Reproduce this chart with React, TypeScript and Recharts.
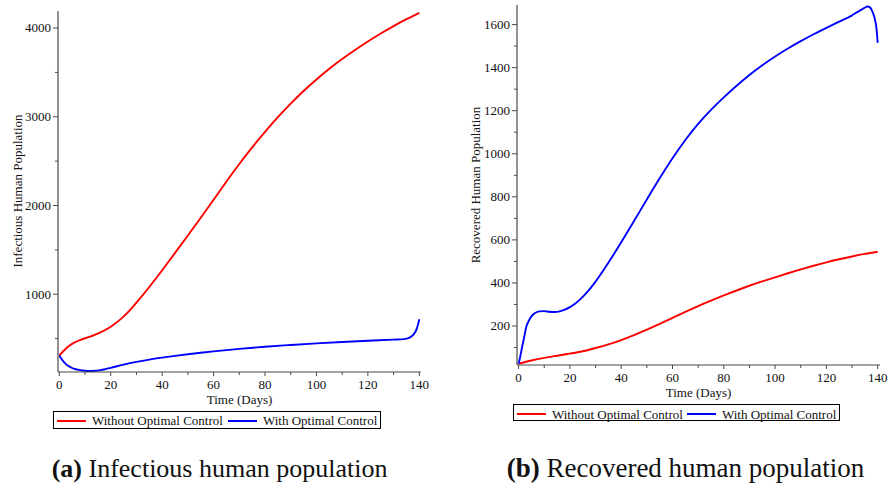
import React from 'react';
import { LineChart, Line, XAxis, YAxis } from 'recharts';

const FONT = '"Liberation Serif", "Times New Roman", serif';

// ---- Data ----
const seriesNames = ['Without Optimal Control', 'With Optimal Control'];
const seriesColors = ['#ff0000', '#0000ff'];

const xTicks = [0, 10, 20, 30, 40, 50, 60, 70, 80, 90, 100, 110, 120, 130, 140];
const infTicks = [500, 1000, 1500, 2000, 2500, 3000, 3500, 4000];
const recTicks = [100, 200, 300, 400, 500, 600, 700, 800, 900, 1000, 1100, 1200, 1300, 1400, 1500, 1600];

// Infectious, without control
const infWithoutDays = [0, 2, 4, 6, 8, 10, 12, 14, 16, 18, 20, 25, 30, 35, 40, 45, 50, 55, 60, 65, 70, 75, 80, 85, 90, 95, 100, 105, 110, 115, 120, 125, 130, 135, 140];
const infWithoutVals = [310, 372, 422, 458, 484, 504, 523, 545, 570, 600, 634, 748, 905, 1082, 1270, 1465, 1662, 1862, 2065, 2270, 2468, 2655, 2830, 2995, 3148, 3290, 3420, 3540, 3650, 3752, 3848, 3938, 4022, 4100, 4172];

// Infectious, with control
const infWithDays = [0, 1, 2, 3, 4, 5, 6, 8, 10, 12, 14, 16, 18, 20, 25, 30, 35, 40, 45, 50, 55, 60, 70, 80, 90, 100, 110, 120, 130, 134, 136, 137, 138, 139, 139.5, 140];
const infWithVals = [310, 265, 230, 203, 184, 169, 158, 145, 138, 136, 138, 145, 157, 171, 207, 238, 264, 286, 306, 324, 341, 357, 385, 409, 429, 447, 462, 476, 489, 495, 508, 526, 556, 610, 660, 718];

// Recovered, without control
const recWithoutDays = [0, 5, 10, 15, 20, 25, 30, 35, 40, 45, 50, 55, 60, 65, 70, 75, 80, 85, 90, 95, 100, 105, 110, 115, 120, 125, 130, 135, 140];
const recWithoutVals = [25, 40, 52, 62, 72, 83, 98, 115, 135, 158, 183, 210, 238, 266, 293, 318, 342, 365, 387, 407, 426, 445, 463, 480, 496, 510, 523, 535, 545];

// Recovered, with control
const recWithDays = [0, 0.5, 1, 1.5, 2, 3, 4, 5, 6, 7, 8, 10, 12, 14, 16, 18, 20, 22, 24, 27, 30, 35, 40, 45, 50, 55, 60, 65, 70, 75, 80, 85, 90, 95, 100, 105, 110, 115, 120, 125, 130, 132, 134, 135, 136, 137, 138, 139, 139.5, 140];
const recWithVals = [25, 50, 80, 110, 138, 197, 225, 245, 257, 264, 268, 269, 266, 265, 268, 276, 288, 304, 324, 361, 406, 494, 589, 688, 788, 886, 979, 1064, 1139, 1204, 1262, 1316, 1366, 1411, 1452, 1489, 1523, 1555, 1585, 1614, 1643, 1658, 1672, 1679, 1684, 1680, 1659, 1620, 1585, 1515];

const zip = (d: number[], v: number[]) => d.map((x, i) => ({ d: x, v: v[i] }));

const AXIS = '#4a4a4a';

const makeYTick = (majorStep: number) => (props: any) => {
  const { x, y, payload } = props;
  const v = payload.value;
  const major = v % majorStep === 0;
  return (
    <g>
      <line x1={x - (major ? 5 : 3)} x2={x} y1={y} y2={y} stroke={AXIS} strokeWidth={1} />
      {major && (
        <text x={x - 7} y={y + 4.3} textAnchor="end" fontSize={13} fontFamily={FONT} fill="#111">
          {v}
        </text>
      )}
    </g>
  );
};

const XTick = (props: any) => {
  const { x, y, payload } = props;
  const v = payload.value;
  const major = v % 20 === 0;
  return (
    <g>
      <line x1={x} x2={x} y1={y} y2={y + (major ? 4 : 3)} stroke={AXIS} strokeWidth={1} />
      {major && (
        <text x={x} y={y + 16.6} textAnchor="middle" fontSize={13} fontFamily={FONT} fill="#111">
          {v}
        </text>
      )}
    </g>
  );
};

type PanelProps = {
  left: number;
  width: number;
  yWidth: number;
  margin: { top: number; right: number; bottom: number; left: number };
  domain: [number, number];
  ticks: number[];
  majorStep: number;
  padding: { left: number; right: number };
  withoutData: { d: number; v: number }[];
  withData: { d: number; v: number }[];
};

const Panel = (p: PanelProps) => (
  <div style={{ position: 'absolute', left: p.left, top: 0 }}>
    <LineChart width={p.width} height={440} margin={p.margin}>
      <XAxis
        dataKey="d"
        type="number"
        domain={[0, 140]}
        ticks={xTicks}
        padding={p.padding}
        tick={XTick}
        tickLine={false}
        tickSize={0}
        tickMargin={0}
        height={40}
        axisLine={{ stroke: AXIS, strokeWidth: 1.2 }}
        interval={0}
        label={{ value: 'Time (Days)', position: 'insideTop', offset: 23, fill: '#111', fontSize: 13, fontFamily: FONT }}
      />
      <XAxis
        xAxisId="top"
        orientation="top"
        type="number"
        domain={[0, 140]}
        height={0}
        tick={false}
        tickLine={false}
        axisLine={{ stroke: AXIS, strokeWidth: 1.2 }}
      />
      <YAxis
        type="number"
        domain={p.domain}
        allowDataOverflow
        ticks={p.ticks}
        tick={makeYTick(p.majorStep)}
        tickLine={false}
        tickSize={0}
        tickMargin={0}
        width={p.yWidth}
        interval={0}
        axisLine={{ stroke: AXIS, strokeWidth: 1.2 }}
      />
      <YAxis
        yAxisId="right"
        orientation="right"
        type="number"
        domain={p.domain}
        width={0}
        tick={false}
        tickLine={false}
        axisLine={{ stroke: AXIS, strokeWidth: 1.2 }}
      />
      <Line
        data={p.withoutData}
        dataKey="v"
        name={seriesNames[0]}
        type="natural"
        stroke={seriesColors[0]}
        strokeWidth={1.9}
        dot={false}
        isAnimationActive={false}
      />
      <Line
        data={p.withData}
        dataKey="v"
        name={seriesNames[1]}
        type="monotone"
        stroke={seriesColors[1]}
        strokeWidth={1.9}
        dot={false}
        isAnimationActive={false}
      />
    </LineChart>
  </div>
);

const LegendBox = ({ left, top, width, height, secondAt }: { left: number; top: number; width: number; height: number; secondAt: number }) => (
  <div
    style={{
      position: 'absolute',
      left,
      top,
      width,
      height,
      border: '1px solid #000',
      boxSizing: 'border-box',
      fontFamily: FONT,
      fontSize: 13,
      color: '#111',
      lineHeight: `${height - 2}px`,
      whiteSpace: 'nowrap',
    }}
  >
    {seriesNames.map((n, i) => (
      <div key={n} style={{ position: 'absolute', left: i === 0 ? 3 : secondAt, top: 0, height: height - 2 }}>
        <span
          style={{
            display: 'inline-block',
            width: 29,
            height: 2,
            background: seriesColors[i],
            verticalAlign: 'middle',
            marginRight: 6,
          }}
        />
        <span style={{ verticalAlign: 'middle' }}>{n}</span>
      </div>
    ))}
  </div>
);

export default function App() {
  return (
    <div style={{ position: 'absolute', left: 0, top: 0, width: 891, height: 484, background: '#fff', overflow: 'hidden' }}>
      <Panel
        left={0}
        width={440}
        yWidth={58}
        margin={{ top: 11, right: 19, bottom: 28, left: 0 }}
        domain={[124, 4192]}
        ticks={infTicks}
        majorStep={1000}
        padding={{ left: 1.3, right: 1.7 }}
        withoutData={zip(infWithoutDays, infWithoutVals)}
        withData={zip(infWithDays, infWithVals)}
      />
      <Panel
        left={440}
        width={451}
        yWidth={77}
        margin={{ top: 5, right: 11, bottom: 35, left: 0 }}
        domain={[19, 1691]}
        ticks={recTicks}
        majorStep={200}
        padding={{ left: 1.6, right: 2.3 }}
        withoutData={zip(recWithoutDays, recWithoutVals)}
        withData={zip(recWithDays, recWithVals)}
      />
      <LegendBox left={53} top={411} width={328} height={18} secondAt={174} />
      <LegendBox left={513} top={404} width={327} height={17} secondAt={173} />
      <svg width={891} height={484} style={{ position: 'absolute', left: 0, top: 0, pointerEvents: 'none' }}>
        <text transform="translate(17,191) rotate(-90)" textAnchor="middle" dominantBaseline="central" fontSize={13} fontFamily={FONT} fill="#111">
          Infectious Human Population
        </text>
        <text transform="translate(475,185) rotate(-90)" textAnchor="middle" dominantBaseline="central" fontSize={13} fontFamily={FONT} fill="#111">
          Recovered Human Population
        </text>
        <text x={51.7} y={476.7} fontSize={26} fontFamily={FONT} fill="#111">
          <tspan fontWeight="bold">(a)</tspan> Infectious human population
        </text>
        <text x={506.7} y={476.7} fontSize={27} fontFamily={FONT} fill="#111">
          <tspan fontWeight="bold">(b)</tspan> Recovered human population
        </text>
      </svg>
    </div>
  );
}
